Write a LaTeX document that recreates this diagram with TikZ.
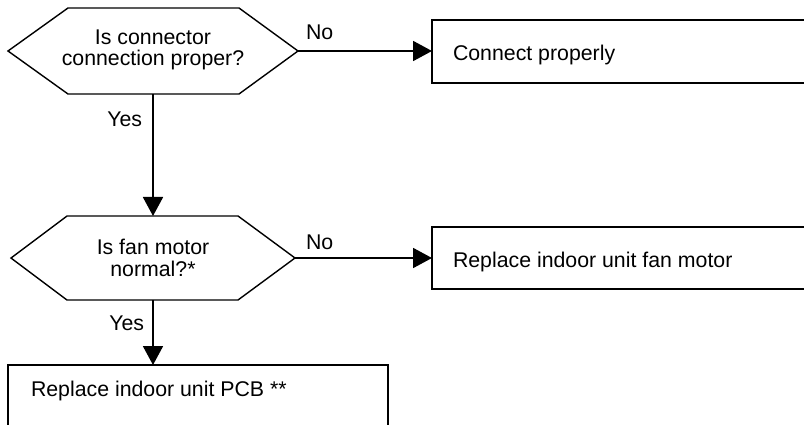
\documentclass[tikz,border=0pt]{standalone}
\usepackage{fontspec}
\setmainfont{Liberation Sans}
\usetikzlibrary{arrows.meta}
\begin{document}
\begin{tikzpicture}[x=1pt,y=-1pt,
  every node/.style={font=\fontsize{21.3}{21.5}\selectfont, inner sep=0pt, outer sep=0pt},
  hexbox/.style={align=center},
  shapeline/.style={draw=black, line width=1.4pt},
  boxnode/.style={shapeline, anchor=north west},
  txt/.style={anchor=base west},
  conn/.style={draw=black, line width=1.9pt, -{Triangle[length=19pt,width=20pt]}},
  lbl/.style={}]
\useasboundingbox (0,0) rectangle (804,425);
\clip (0,0) rectangle (804,425);

% decisions
\node[hexbox, minimum width=290pt, minimum height=86pt] (h1) at (153,50) {Is connector\\connection proper?};
\draw[shapeline] ([yshift=-1pt]h1.west) -- ([xshift=60pt,yshift=-1pt]h1.north west) -- ([xshift=-59pt,yshift=-1pt]h1.north east)
  -- ([yshift=-1pt]h1.east) -- ([xshift=-59pt,yshift=-1pt]h1.south east) -- ([xshift=60pt,yshift=-1pt]h1.south west) -- cycle;

\node[hexbox, minimum width=284pt, minimum height=84pt] (h2) at (153,258) {Is fan motor\\normal?*};
\draw[shapeline] (h2.west) -- ([xshift=56pt]h2.north west) -- ([xshift=-57pt]h2.north east)
  -- (h2.east) -- ([xshift=-57pt]h2.south east) -- ([xshift=56pt]h2.south west) -- cycle;

% boxes
\node[boxnode, minimum width=400pt, minimum height=63pt] (b1) at (432,20) {};
\node[txt] (t1) at (453,60.7) {Connect properly};
\node[boxnode, minimum width=400pt, minimum height=62pt] (b2) at (432,227) {};
\node[txt] (t2) at (453,267.3) {Replace indoor unit fan motor};
\node[boxnode, minimum width=380pt, minimum height=100pt] (b3) at (8,365) {};
\node[txt] (t3) at (31,396.7) {Replace indoor unit PCB **};

% connectors
\draw[conn] ([yshift=-1pt]h1.east) -- node[lbl, at start, anchor=base west, xshift=8pt, yshift=11pt] (no1) {No} ([yshift=-1pt]h1.east -| b1.west);
\draw[conn] ([yshift=-1pt]h1.south) -- node[lbl, at start, anchor=base east, xshift=-11pt, yshift=-33pt] (yes1) {Yes} (h2.north);
\draw[conn] (h2.east) -- node[lbl, at start, anchor=base west, xshift=11pt, yshift=9pt] (no2) {No} (h2.east -| b2.west);
\draw[conn] (h2.south) -- node[lbl, at start, anchor=base east, xshift=-9pt, yshift=-30pt] (yes2) {Yes} (h2.south |- b3.north);
\end{tikzpicture}
\end{document}
